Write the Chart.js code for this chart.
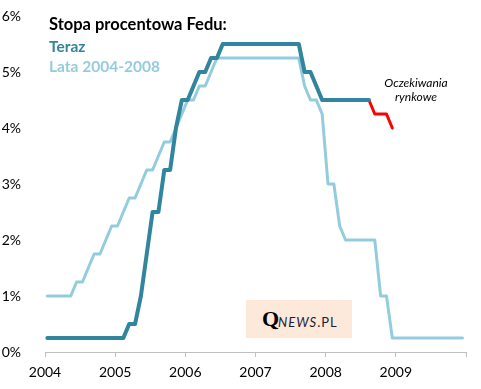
<!DOCTYPE html>
<html>
<head>
<meta charset="utf-8">
<script src="https://cdn.jsdelivr.net/npm/chart.js@4"></script>
<style>
    body { margin: 0; background: #fff; }
    #wrap { position: relative; width: 481px; height: 389px; font-family: Lato, "Noto Sans", sans-serif; }
    canvas { position: absolute; left: 0; top: 0; }
    .txt { position: absolute; white-space: nowrap; line-height: 1; }
    #title { left: 49px; top: 16px; font-size: 16.5px; font-weight: bold; color: #000; }
    #lgDark { left: 49px; top: 39px; font-size: 15.5px; font-weight: bold; color: #31859c; }
    #lgLight { left: 49px; top: 59px; font-size: 15.5px; font-weight: bold; color: #93cddd; }
    #note { left: 376px; top: 76px; width: 80px; text-align: center; font-size: 12px; font-style: italic; color: #000; line-height: 14px; }
    #logo { left: 246px; top: 300px; width: 106px; height: 38px; background: #fde9d9; }
    #logo span { position: absolute; white-space: nowrap; }
</style>
</head>
<body>
<div id="wrap">
    <canvas id="fedChart" width="481" height="389"></canvas>
    <div class="txt" id="title">Stopa procentowa Fedu:</div>
    <div class="txt" id="lgDark">Teraz</div>
    <div class="txt" id="lgLight">Lata 2004-2008</div>
    <div class="txt" id="note">Oczekiwania<br>rynkowe</div>
    <div class="txt" id="logo">
        <span style="left:16px; top:8px; font-family:'Liberation Serif',serif; font-size:22px; font-weight:bold; color:#000;">Q</span>
        <span style="left:32px; top:16px; font-size:13px; font-style:italic; letter-spacing:1px; color:#1b1b3a;">NEWS<span style="position:static; font-style:normal;">.PL</span></span>
    </div>
</div>
<script>
// Fed funds rate (upper bound), monthly, from Jan of the first year
const darkRates = [
    0.25, 0.25, 0.25, 0.25, 0.25, 0.25, 0.25, 0.25, 0.25, 0.25, 0.25, 0.25,
    0.25, 0.25, 0.5, 0.5, 1.0, 1.75, 2.5, 2.5, 3.25, 3.25, 4.0, 4.5,
    4.5, 4.75, 5.0, 5.0, 5.25, 5.25, 5.5, 5.5, 5.5, 5.5, 5.5, 5.5,
    5.5, 5.5, 5.5, 5.5, 5.5, 5.5, 5.5, 5.5, 5.0, 5.0, 4.75, 4.5,
    4.5, 4.5, 4.5, 4.5, 4.5, 4.5, 4.5, 4.5
];
// market expectations, starting at month 55
const expectStart = 55;
const expectRates = [4.5, 4.25, 4.25, 4.25, 4.0];
// 2004-2008 cycle, monthly from Jan 2004
const lightRates = [
    1.0, 1.0, 1.0, 1.0, 1.0, 1.25, 1.25, 1.5, 1.75, 1.75, 2.0, 2.25,
    2.25, 2.5, 2.75, 2.75, 3.0, 3.25, 3.25, 3.5, 3.75, 3.75, 4.0, 4.25,
    4.5, 4.5, 4.75, 4.75, 5.0, 5.25, 5.25, 5.25, 5.25, 5.25, 5.25, 5.25,
    5.25, 5.25, 5.25, 5.25, 5.25, 5.25, 5.25, 5.25, 4.75, 4.5, 4.5, 4.25,
    3.0, 3.0, 2.25, 2.0, 2.0, 2.0, 2.0, 2.0, 2.0, 1.0, 1.0, 0.25,
    0.25, 0.25, 0.25, 0.25, 0.25, 0.25, 0.25, 0.25, 0.25, 0.25, 0.25, 0.25
];
const yearLabels = [2004, 2005, 2006, 2007, 2008, 2009];
const yTicks = [0, 1, 2, 3, 4, 5, 6];

const firstYear = 2004;
const monthShift = 0.4;

function toPoints(values, start) {
    return values.map((v, i) => ({ x: firstYear + (start + i + monthShift) / 12, y: v }));
}

const tickFont = { family: 'Lato', size: 14 };

new Chart(document.getElementById('fedChart'), {
    type: 'line',
    data: {
        datasets: [
            {
                label: 'Teraz',
                data: toPoints(darkRates, 0),
                borderColor: '#31859c',
                borderWidth: 4
            },
            {
                label: 'Oczekiwania rynkowe',
                data: toPoints(expectRates, expectStart),
                borderColor: '#ff0000',
                borderWidth: 3
            },
            {
                label: 'Lata 2004-2008',
                data: toPoints(lightRates, 0),
                borderColor: '#93cddd',
                borderWidth: 3
            }
        ]
    },
    options: {
        responsive: false,
        animation: false,
        events: [],
        elements: {
            point: { radius: 0 },
            line: { tension: 0, borderJoinStyle: 'round', borderCapStyle: 'round', fill: false }
        },
        layout: { padding: { top: 16, right: 15, left: 0, bottom: 0 } },
        plugins: {
            legend: { display: false },
            tooltip: { enabled: false },
            title: { display: false }
        },
        scales: {
            x: {
                type: 'linear',
                min: 2004,
                max: 2010,
                afterBuildTicks: (scale) => {
                    scale.ticks = yearLabels.concat([2010]).map(v => ({ value: v }));
                },
                afterFit: (scale) => {
                    scale.height = 37;
                    scale.paddingLeft = 0;
                    scale.paddingRight = 0;
                },
                grid: {
                    drawOnChartArea: false,
                    drawTicks: true,
                    tickLength: 5,
                    color: '#bfbfbf'
                },
                border: { display: true, color: '#bfbfbf', width: 1 },
                ticks: {
                    color: '#000',
                    font: tickFont,
                    padding: 7,
                    maxRotation: 0,
                    callback: (v) => yearLabels.includes(v) ? String(v) : ''
                }
            },
            y: {
                min: 0,
                max: 6,
                afterBuildTicks: (scale) => {
                    scale.ticks = yTicks.map(v => ({ value: v }));
                },
                afterFit: (scale) => {
                    scale.width = 45;
                    scale.paddingTop = 0;
                    scale.paddingBottom = 0;
                },
                grid: { display: false },
                border: { display: false },
                ticks: {
                    color: '#000',
                    font: tickFont,
                    padding: 16,
                    callback: (v) => v + '%'
                }
            }
        }
    }
});
</script>
</body>
</html>
